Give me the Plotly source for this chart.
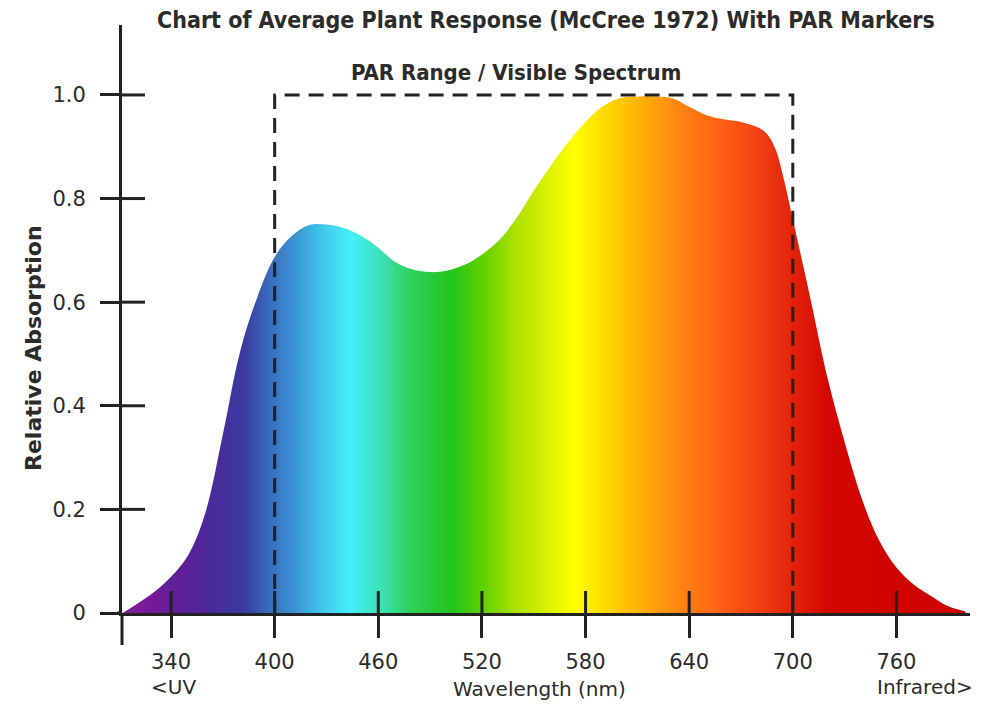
import plotly.graph_objects as go

# ---------------- data ----------------
WAVELENGTH = [312, 320, 330, 340, 350, 360, 370, 380, 390, 400,
              410, 420, 430, 440, 450, 460, 470, 480, 490, 500,
              510, 520, 530, 540, 550, 560, 570, 580, 590, 600,
              610, 620, 630, 640, 650, 660, 670, 680, 685, 690, 695, 700,
              710, 720, 730, 740, 750, 760, 770, 780, 790, 800]
ABSORPTION = [0.0, 0.017, 0.04, 0.07, 0.112, 0.195, 0.345, 0.505, 0.61, 0.687,
              0.728, 0.749, 0.75, 0.743, 0.728, 0.705, 0.677, 0.663, 0.658, 0.661,
              0.672, 0.692, 0.72, 0.762, 0.815, 0.864, 0.909, 0.948, 0.978, 0.994,
              0.997, 0.997, 0.994, 0.977, 0.961, 0.953, 0.948, 0.937, 0.925, 0.895, 0.835, 0.76,
              0.61, 0.455, 0.33, 0.22, 0.14, 0.088, 0.055, 0.033, 0.013, 0.003]

X_TICKS = [340, 400, 460, 520, 580, 640, 700, 760]
Y_TICKS = [0, 0.2, 0.4, 0.6, 0.8, 1.0]
Y_TICK_LABELS = ["0", "0.2", "0.4", "0.6", "0.8", "1.0"]
PAR_RANGE = [400, 700]
PAR_LEVEL = 1.0

SPECTRUM_WL = [311.6, 324, 345, 363, 382, 397, 413, 428, 444, 463, 478, 503,
               520, 538, 573, 596, 631, 662, 691, 720, 802.6]
SPECTRUM_COLORS = ["#841a9c", "#7a1a98", "#5d1f99", "#4a2a9a", "#3a3aa0", "#3a6cbc",
                   "#3a98d4", "#40c8ea", "#44f0f8", "#3ae0b0", "#30d060", "#22c41a",
                   "#60d000", "#a8e000", "#ffff00", "#ffd000", "#ff8a10", "#ff5a14",
                   "#e83010", "#d40800", "#cc0000"]

X_RANGE = [311.6, 802.6]
Y_RANGE = [0, 1.135]

# ---------------- layout geometry ----------------
OFF = 8  # page body margin
W, H = 991 - OFF, 705 - OFF
ML, MR, MT, MB = 122 - OFF, 21, 25 - OFF, 92
PW, PH = W - ML - MR, H - MT - MB
INK = "#222222"
TXT = "#2b2b2b"


def fy(py):
    """page pixel row -> paper y"""
    return (613 - py) / PH


def fx(px):
    """page pixel column -> paper x"""
    return (px - 122) / PW


span = X_RANGE[1] - X_RANGE[0]
colorscale = [[(w - X_RANGE[0]) / span, c] for w, c in zip(SPECTRUM_WL, SPECTRUM_COLORS)]
colorscale[0][0] = 0.0
colorscale[-1][0] = 1.0

fig = go.Figure()
fig.add_trace(go.Scatter(
    x=WAVELENGTH, y=ABSORPTION,
    mode="lines", line=dict(width=0, shape="spline", smoothing=1.0, color="rgba(0,0,0,0)"),
    fill="tozeroy",
    fillgradient=dict(type="horizontal", colorscale=colorscale,
                      start=X_RANGE[0], stop=X_RANGE[1]),
    hoverinfo="skip", showlegend=False,
))

shapes = []
for v in X_TICKS:
    shapes.append(dict(type="line", xref="x", yref="paper", x0=v, x1=v,
                       y0=0, y1=22 / PH, line=dict(color=INK, width=3), layer="above"))
for v in Y_TICKS[1:]:
    shapes.append(dict(type="line", xref="paper", yref="y", x0=0, x1=23 / PW,
                       y0=v, y1=v, line=dict(color=INK, width=3), layer="above"))
shapes.append(dict(type="line", xref="paper", yref="paper", x0=0, x1=0,
                   y0=-32 / PH, y1=0, line=dict(color=INK, width=3)))
shapes.append(dict(type="line", xref="paper", yref="paper", x0=-5 / PW, x1=0,
                   y0=0, y1=0, line=dict(color=INK, width=3)))
shapes.append(dict(type="path", xref="x", yref="y",
                   path=f"M {PAR_RANGE[0]},0 L {PAR_RANGE[0]},{PAR_LEVEL} "
                        f"L {PAR_RANGE[1]},{PAR_LEVEL} L {PAR_RANGE[1]},0",
                   line=dict(color=INK, width=3, dash="15px,9px"), layer="above"))

tick_font = dict(family="DejaVu Sans", size=21, color=TXT)
annotations = [
    dict(text="<b>PAR Range / Visible Spectrum</b>", xref="x", yref="paper",
         x=540, y=fy(72), xanchor="center", yanchor="middle", showarrow=False,
         font=dict(family="DejaVu Sans Condensed", size=22, color=TXT)),
    dict(text="&lt;UV", xref="x", yref="paper", x=341.5, y=fy(687),
         xanchor="center", yanchor="middle",
         showarrow=False, font=dict(family="DejaVu Sans", size=20, color=TXT)),
    dict(text="Wavelength (nm)", xref="x", yref="paper", x=553.6, y=fy(689),
         xanchor="center", yanchor="middle",
         showarrow=False, font=dict(family="DejaVu Sans", size=20, color=TXT)),
    dict(text="Infrared&gt;", xref="x", yref="paper", x=776.3, y=fy(687),
         xanchor="center", yanchor="middle",
         showarrow=False, font=dict(family="DejaVu Sans", size=20, color=TXT)),
    dict(text="<b>Relative Absorption</b>", xref="paper", yref="paper",
         x=fx(33), y=fy(348), textangle=-90, xanchor="center", yanchor="middle",
         showarrow=False, font=dict(family="DejaVu Sans", size=22, color=TXT)),
    dict(text="<b>Chart of Average Plant Response (McCree 1972) With PAR Markers</b>",
         xref="paper", yref="paper", x=fx(546), y=fy(20),
         xanchor="center", yanchor="middle", showarrow=False,
         font=dict(family="DejaVu Sans Condensed", size=23, color=TXT)),
]

fig.update_layout(
    width=W, height=H, autosize=False,
    margin=dict(l=ML, r=MR, t=MT, b=MB),
    paper_bgcolor="white", plot_bgcolor="white",
    xaxis=dict(range=X_RANGE, tickvals=X_TICKS, ticks="outside", ticklen=22,
               tickwidth=3, tickcolor=INK, showline=True, linewidth=3, linecolor=INK,
               showgrid=False, zeroline=False, tickfont=tick_font,
               ticklabelstandoff=6, fixedrange=True),
    yaxis=dict(range=Y_RANGE, tickvals=Y_TICKS, ticktext=Y_TICK_LABELS, ticks="outside",
               ticklen=19, tickwidth=3, tickcolor=INK, showline=True, linewidth=3,
               linecolor=INK, showgrid=False, zeroline=False, tickfont=tick_font,
               ticklabelstandoff=10, fixedrange=True),
    shapes=shapes, annotations=annotations,
)

fig.write_html("out.html")
